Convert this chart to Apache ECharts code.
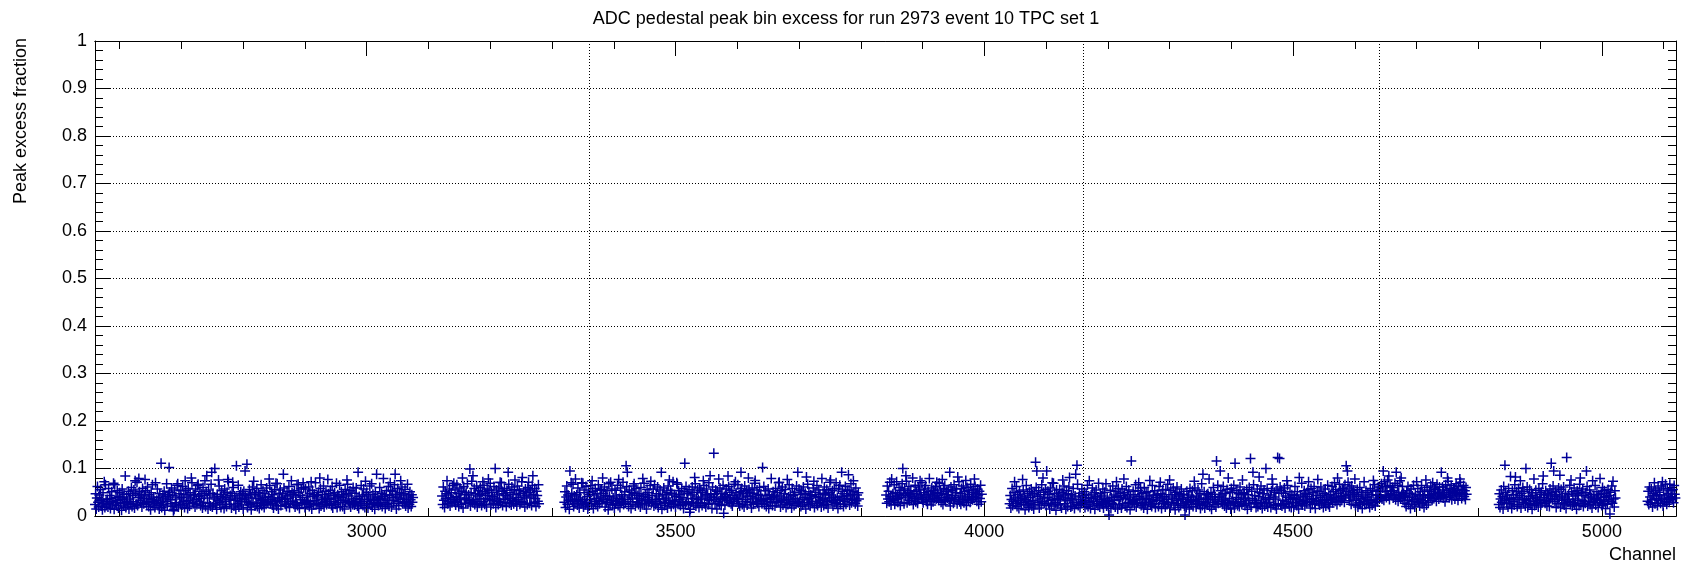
<!DOCTYPE html>
<html>
<head>
<meta charset="utf-8">
<title>ADC pedestal peak bin excess</title>
<script src="https://cdn.jsdelivr.net/npm/echarts@6/dist/echarts.min.js"></script>
<style>
  html, body { margin: 0; padding: 0; background: #ffffff; }
  #chart { width: 1692px; height: 568px; }
</style>
</head>
<body>
<div id="chart"></div>
<script>
// Peak excess fraction per channel, in thousandths, one array per contiguous channel block.
const segStarts = [2560, 3122, 3320, 3841, 4041, 4833, 5074];

const seg1 = [
  24,47,15,38,62,29,19,44,33,56,21,36,13,49,27,41,18,66,31,25,
  35,19,58,27,43,16,37,51,23,30,69,14,45,28,39,22,53,33,17,41,
  49,26,34,12,57,38,21,46,29,64,18,40,31,24,52,15,36,47,27,60,
  20,43,30,55,17,35,48,25,71,22,39,14,51,33,28,45,19,58,37,26,
  42,16,53,31,24,61,37,20,45,28,13,49,35,66,23,40,30,18,54,27,
  33,57,22,39,15,47,29,63,18,36,44,25,52,12,41,31,68,21,38,46,
  17,50,34,26,59,20,43,37,14,55,28,40,23,65,32,19,47,36,24,53,
  39,23,62,30,46,18,35,54,27,42,16,58,33,21,49,38,25,70,29,44,
  26,45,19,57,34,24,64,13,41,31,52,22,37,47,17,60,28,43,35,20,
  51,30,38,15,55,27,44,21,67,33,19,48,26,40,58,23,36,14,46,32,
  22,63,29,41,18,53,36,25,45,16,57,31,39,20,50,27,72,34,24,43,
  36,17,48,28,60,21,42,33,14,54,38,26,65,19,44,30,51,23,37,47,
  15,52,35,23,43,31,66,18,40,28,56,24,46,13,38,61,27,34,49,21,
  45,27,58,20,37,49,16,42,32,63,22,35,53,29,18,47,39,25,59,31,
  28,41,19,64,26,34,51,23,45,17,38,56,30,43,21,68,33,15,48,36,
  55,22,39,30,47,14,59,35,25,42,20,52,37,27,62,18,44,31,24,49,
  31,46,25,53,19,40,28,66,22,37,50,16,43,34,57,26,39,21,60,29,
  18,57,33,24,44,30,61,20,48,27,36,15,54,41,23,46,32,70,25,38,
  43,26,50,16,39,58,21,34,45,29,63,19,40,31,52,24,37,14,47,35,
  27,54,36,22,62,17,43,30,49,25,38,56,18,45,28,41,65,20,33,51,
  39,20,45,33,15,56,29,47,23,67,31,42,26,53,19,36,48,24,60,30,
  23,48,28,59,37,21,52,16,41,34,26,64,30,44,22,57,35,18,39,46,
  50,31,17,42,26,63,35,24,55,19,46,29,38,14,51,33,68,27,40,22,
  34,60,24,37,48,20,41,57,28,45,16,36,53,25,32,62,21,43,29,54,
  19,39,52,27,33,66,23,46,15,40,58,30,22,49,36,18,44,61,26,35,
  47,28,56,21,38,31,64,17,42,25,51,34,20,45,29,39
];

const seg2 = [
  42,24,61,33,18,52,37,47,70,26,44,30,57,21,39,49,28,64,35,45,
  31,55,23,41,66,29,48,20,38,59,34,25,52,43,17,62,36,46,27,50,
  38,68,26,44,33,56,21,49,73,29,40,35,58,24,47,31,63,19,42,53,
  27,45,60,36,22,51,41,30,65,25,48,37,19,57,43,28,54,34,69,23,
  50,33,41,26,62,38,46,18,55,31,44,24,59,36,71,28,39,52,22,47,
  35,58,29,43,20,54,40,32,67,27,49,37,23,61,33,45,26,56,41,30,
  46,21,63,34,39,53,25,48,30,72,36,28,51,42,19,57,38,44,24,60,
  32,49,27,55,40,22,64,35,45,29,58,37,20,52,43,31,66,26
];

const seg3 = [
  29,51,18,40,63,25,44,33,14,57,36,22,48,31,67,20,42,27,53,35,
  45,23,59,32,17,49,38,26,70,30,43,19,55,34,24,62,28,41,15,50,
  21,46,35,64,27,39,52,16,44,31,58,24,37,47,20,66,33,26,54,40,
  56,30,22,48,36,61,19,43,28,53,34,13,68,41,25,46,32,57,23,38,
  33,17,54,26,42,31,65,22,49,37,18,59,29,45,35,71,24,40,51,27,
  40,62,28,35,20,55,44,30,16,50,38,25,63,33,47,21,58,36,29,43,
  24,48,37,19,60,32,26,52,41,69,23,45,34,15,56,39,28,49,31,64,
  52,27,43,31,57,21,66,35,24,47,30,61,18,42,36,55,26,39,14,46,
  36,59,22,45,29,38,50,17,63,33,41,27,54,20,48,32,72,25,44,30,
  19,41,31,67,25,53,34,46,22,39,58,28,36,16,51,43,24,62,30,48,
  47,26,56,35,14,44,29,61,37,23,50,32,68,21,40,27,55,34,18,59,
  28,53,38,22,49,31,64,26,42,19,57,36,45,24,70,33,29,47,39,16,
  61,34,20,46,27,55,40,15,52,30,43,25,59,37,22,48,35,65,26,41,
  23,45,57,32,39,18,62,29,50,36,26,54,21,43,31,67,38,17,49,34,
  37,66,26,44,21,51,33,58,24,40,47,19,63,30,35,53,23,42,28,56,
  50,29,41,17,59,36,25,48,69,22,38,31,55,27,46,20,60,34,43,32,
  26,47,33,62,24,43,53,20,37,30,57,16,45,35,28,64,39,22,51,41,
  44,21,58,28,36,49,31,70,25,42,19,54,33,61,23,38,47,29,56,18,
  35,52,24,40,66,27,45,34,17,58,30,43,22,50,37,26,63,31,44,28,
  57,30,46,20,53,35,23,61,39,28,48,15,42,34,67,25,51,37,21,45,
  31,43,27,59,34,18,50,41,26,64,22,39,55,29,46,33,19,60,36,48,
  22,61,36,45,25,56,30,17,49,38,71,27,44,32,53,21,40,58,28,35,
  48,26,39,16,57,33,65,24,41,29,52,36,20,47,31,62,25,43,54,37,
  30,55,23,42,68,28,46,35,19,51,38,26,59,32,44,21,49,36
];

const seg4 = [
  44,27,63,36,52,30,71,41,23,56,38,47,33,66,25,49,35,58,42,29,
  37,60,45,22,54,39,68,31,48,26,57,43,34,73,28,50,40,62,32,46,
  53,33,41,59,24,47,37,65,30,51,42,27,61,36,55,21,45,39,70,34,
  28,49,57,38,64,31,44,25,52,40,67,35,46,23,59,42,30,54,37,48,
  62,36,26,50,43,33,69,39,55,29,47,41,24,58,35,64,31,45,51,38,
  40,56,32,47,21,61,37,53,43,27,66,34,49,39,57,26,44,35,72,30,
  47,25,58,42,35,63,28,51,38,45,22,60,40,33,54,46,29,67,36,50,
  34,55,41,27,62,39,48,31,57,44,25,52,37,65,30,46
];

const seg5 = [
  26,43,17,35,58,22,31,49,14,38,27,62,20,45,33,16,52,29,40,24,
  37,19,55,28,42,13,34,64,23,47,30,18,51,26,39,57,21,44,32,15,
  48,25,33,60,20,41,29,53,17,36,45,23,66,31,19,50,27,38,56,22,
  18,39,52,27,46,15,59,33,24,43,35,69,21,48,28,12,55,37,25,42,
  34,56,23,40,17,50,30,44,63,26,38,14,53,32,20,47,61,28,36,19,
  45,21,36,58,29,16,42,54,25,33,67,22,40,48,18,35,27,57,31,43,
  29,51,18,33,46,24,65,20,39,53,28,16,44,37,59,23,31,49,14,41,
  55,27,40,22,61,35,19,47,30,42,25,57,17,36,50,28,68,21,38,33,
  20,46,31,54,16,39,27,63,24,44,33,19,52,29,41,15,58,35,23,48,
  39,17,57,26,43,31,49,21,37,62,18,45,28,55,34,13,40,51,26,30,
  52,32,24,45,66,19,36,28,53,15,41,34,59,22,47,27,38,17,60,25,
  28,49,37,14,51,29,42,58,23,35,20,64,31,44,26,53,18,39,33,46,
  43,20,62,33,25,47,16,38,55,27,41,30,19,56,35,24,67,29,45,21,
  17,54,28,40,36,59,23,45,13,50,32,61,26,37,18,48,42,22,57,34,
  36,26,46,21,63,30,18,52,39,28,44,15,58,33,25,40,53,20,35,49,
  59,31,19,42,27,55,35,24,47,16,38,68,22,43,30,51,17,36,28,45,
  23,47,34,57,20,38,49,14,41,29,60,25,46,34,19,54,31,65,27,40,
  40,18,53,30,44,25,62,36,21,48,33,17,56,28,42,23,37,50,15,58,
  31,50,26,65,17,43,29,39,54,22,35,47,20,61,30,45,24,16,49,36,
  48,22,38,27,56,14,45,32,60,26,41,19,52,37,24,66,28,43,33,18,
  26,57,20,41,35,50,23,63,29,16,47,38,55,21,34,44,27,58,19,39,
  35,29,44,18,53,31,67,24,40,50,22,36,15,57,42,26,48,32,61,23,
  54,21,33,48,25,59,17,42,30,46,64,27,39,20,51,35,18,45,28,37,
  19,43,62,29,38,22,51,35,15,55,31,44,26,69,23,40,33,53,21,47,
  41,28,36,56,20,46,30,17,58,34,24,49,37,62,27,16,43,32,52,25,
  30,52,23,39,61,26,43,35,18,48,29,57,21,40,33,65,24,45,19,36,
  45,34,62,28,51,39,70,31,56,42,24,60,36,48,67,30,53,41,33,58,
  38,57,29,66,43,35,52,27,71,46,32,59,40,25,63,49,36,54,44,61,
  22,46,33,56,19,41,28,60,25,37,50,16,44,31,63,24,39,53,27,35,
  49,26,40,18,58,32,45,23,54,37,29,66,21,43,35,52,30,61,44,38,
  55,41,68,36,59,48,33,72,44,62,39,51,76,42,57,35,64,47,53,45,
  60,38,53,46,69,34,57,43,65,31,50,40,74,37,55,45,62,33,48,41,
  27,44,20,53,33,62,24,39,48,16,57,30,42,25,65,35,19,46,31,50,
  36,58,29,42,21,51,34,64,26,45,38,18,55,32,47,23,60,40,28,43,
  52,39,63,45,33,70,48,37,59,42,56,31,67,44,50,36,61,47,40,72,
  43,61,38,55,46,30,66,41,53,35,73,49,39,58,44,64,34,51,47,57,
  58,36,49,68,42,54,33,62,45,39,71,50,37,56,47,64,41,53,35,60,
  46
];

const seg6 = [
  24,47,18,36,55,29,41,15,62,32,21,50,38,27,44,19,58,34,26,42,
  37,16,53,30,45,23,66,28,39,51,20,34,58,25,43,31,17,48,36,60,
  29,52,35,21,46,33,61,18,41,27,56,37,24,49,14,43,31,64,22,38,
  54,26,40,32,19,58,35,46,23,50,29,68,17,39,44,27,53,33,21,47,
  31,44,20,57,37,25,49,34,63,22,41,30,52,18,45,36,26,59,40,28,
  19,56,33,42,27,61,23,38,48,16,54,35,29,46,31,65,24,40,51,21,
  42,28,59,25,36,47,14,53,32,44,22,67,37,26,50,33,57,20,43,30,
  27,49,36,62,21,40,31,55,24,46,38,17,58,29,42,34,64,23,37,51,
  35,18,45,28,57,33,48,22,60,26,39,53,30,16,47,41,25,56,34,43,
  22,50,31,63,27,44,36,19,53,38
];

const seg7 = [
  31,52,24,61,40,28,57,35,19,48,43,66,26,54,37,45,22,59,33,50,
  42,27,63,36,49,21,55,38,30,67,44,25,58,34,47,29,62,39,53,41,
  35,56,28,64,46,38
];

// Channels standing out from the band: [channel, thousandths].
const spikes = [
  [2575,72],[2592,66],[2609,84],[2625,74],[2631,79],[2641,77],[2658,70],[2667,111],
  [2680,102],[2687,11],[2694,68],[2706,74],[2716,80],[2727,67],[2738,74],[2741,85],
  [2749,92],[2754,100],[2760,76],[2775,77],[2783,71],[2789,106],[2803,95],[2806,109],
  [2817,73],[2829,66],[2842,78],[2853,69],[2865,88],[2878,74],[2889,67],[2897,70],
  [2910,72],[2924,80],[2937,77],[2951,69],[2968,76],[2986,92],[2998,73],[3008,68],
  [3016,88],[3027,79],[3038,70],[3046,88],[3055,74],[3066,67],
  [3130,74],[3141,69],[3155,80],[3167,99],[3172,85],[3188,72],[3197,78],[3208,100],
  [3218,70],[3229,92],[3240,76],[3252,81],[3262,71],[3269,85],
  [3329,95],[3331,70],[3338,78],[3350,69],[3365,74],[3382,80],[3395,71],[3408,77],
  [3420,106],[3422,92],[3433,68],[3447,79],[3460,73],[3477,92],[3490,76],[3502,70],
  [3515,111],[3523,8],[3531,81],[3545,74],[3556,85],[3562,132],[3570,78],[3578,6],
  [3585,84],[3597,72],[3606,92],[3618,80],[3629,75],[3641,102],[3655,79],[3668,71],
  [3681,77],[3698,92],[3712,82],[3724,73],[3737,79],[3751,76],[3760,70],[3769,92],
  [3780,87],[3788,74],
  [3850,78],[3858,72],[3868,100],[3873,85],[3884,80],[3896,74],[3911,79],[3923,71],
  [3932,77],[3944,92],[3957,82],[3970,75],[3984,78],
  [4049,72],[4062,77],[4083,113],[4085,95],[4095,80],[4101,95],[4110,70],[4127,76],
  [4138,81],[4148,88],[4150,107],[4170,74],[4185,69],[4202,2],[4214,72],[4226,78],
  [4238,116],[4250,70],[4268,75],[4285,71],[4300,76],[4325,2],[4340,73],[4354,88],
  [4364,78],[4376,116],[4382,95],[4395,80],[4406,111],[4418,76],[4431,121],[4435,92],
  [4445,82],[4456,100],[4466,78],[4475,123],[4478,121],[4490,74],[4510,81],[4525,72],
  [4540,77],[4572,80],[4586,106],[4588,95],[4600,78],[4615,72],[4630,75],[4646,95],
  [4655,84],[4667,92],[4675,80],[4700,72],[4715,76],[4740,92],[4750,80],[4770,78],
  [4843,107],[4852,83],[4860,82],[4868,74],[4877,100],[4890,78],[4905,84],[4918,111],
  [4922,95],[4932,86],[4943,123],[4950,76],[4965,80],[4975,95],[4985,74],[4997,79],
  [5013,4],[5018,73],
  [5085,70],[5098,72],[5110,67]
];

// Axis ticks and the wire-plane boundaries drawn as dotted guides.
const xMajorTicks = [3000, 3500, 4000, 4500, 5000];
const xMinorTicks = [2600, 2700, 2800, 2900, 3100, 3200, 3300, 3400, 3600, 3700, 3800, 3900,
                     4100, 4200, 4300, 4400, 4600, 4700, 4800, 4900, 5100];
const boundaryChannels = [3360, 4160, 4640];

const chartTitle = 'ADC pedestal peak bin excess for run 2973 event 10 TPC set 1';
const xTitle = 'Channel';
const yTitle = 'Peak excess fraction';

const segValues = [seg1, seg2, seg3, seg4, seg5, seg6, seg7];
const spikeMap = new Map(spikes.map(s => [s[0], s[1]]));
const points = [];
segValues.forEach((vals, k) => {
  vals.forEach((v, i) => {
    const ch = segStarts[k] + i;
    const val = spikeMap.has(ch) ? spikeMap.get(ch) : v;
    points.push([ch, val / 1000]);
  });
});

const FONT = '"Liberation Sans", Arial, Helvetica, sans-serif';
const INK = '#000000';
const MARK = '#000099';

function xAxisDef(position, ticks, len, withLabels) {
  return {
    type: 'value', position: position, min: 2560, max: 5120,
    axisLine: { show: true, onZero: false, lineStyle: { color: INK, width: 1 } },
    axisTick: { show: true, inside: true, length: len, customValues: ticks, lineStyle: { color: INK, width: 1 } },
    axisLabel: withLabels
      ? { show: true, customValues: ticks, margin: 7, fontSize: 18, fontFamily: FONT, color: INK,
          formatter: v => String(v) }
      : { show: false },
    splitLine: { show: false }
  };
}

function yAxisDef(position, withLabels) {
  return {
    type: 'value', position: position, min: 0, max: 1, interval: 0.1,
    axisLine: { show: true, onZero: false, lineStyle: { color: INK, width: 1 } },
    axisTick: { show: true, inside: true, length: 15, lineStyle: { color: INK, width: 1 } },
    minorTick: { show: true, splitNumber: 5, length: 8, lineStyle: { color: INK, width: 1 } },
    axisLabel: withLabels
      ? { show: true, margin: 8, fontSize: 18, fontFamily: FONT, color: INK }
      : { show: false },
    splitLine: withLabels
      ? { show: true, lineStyle: { color: INK, width: 1, type: [1, 2] } }
      : { show: false }
  };
}

const chart = echarts.init(document.getElementById('chart'), null, { renderer: 'canvas' });
chart.setOption({
  animation: false,
  backgroundColor: '#ffffff',
  title: {
    text: chartTitle, left: 'center', top: 4,
    textStyle: { fontFamily: FONT, fontSize: 18, fontWeight: 'normal', color: INK, lineHeight: 20 }
  },
  grid: { left: 95, right: 16, top: 41, bottom: 52, containLabel: false },
  xAxis: [
    xAxisDef('bottom', xMajorTicks, 15, true),
    xAxisDef('bottom', xMinorTicks, 8, false),
    xAxisDef('top', xMajorTicks, 15, false),
    xAxisDef('top', xMinorTicks, 8, false)
  ],
  yAxis: [
    yAxisDef('left', true),
    yAxisDef('right', false)
  ],
  graphic: [
    {
      type: 'text', x: 21, y: 38, rotation: Math.PI / 2, silent: true,
      style: { text: yTitle, fontFamily: FONT, fontSize: 18, fill: INK, align: 'right', verticalAlign: 'middle' }
    },
    {
      type: 'text', x: 1676, y: 555, silent: true,
      style: { text: xTitle, fontFamily: FONT, fontSize: 18, fill: INK, align: 'right', verticalAlign: 'middle' }
    }
  ],
  series: [{
    type: 'scatter',
    xAxisIndex: 0, yAxisIndex: 0,
    data: points,
    symbol: 'path://M4.25,0H5.75V4.25H10V5.75H5.75V10H4.25V5.75H0V4.25H4.25Z',
    symbolSize: 10,
    itemStyle: { color: MARK, opacity: 1 },
    silent: true,
    markLine: {
      silent: true, symbol: ['none', 'none'], animation: false,
      label: { show: false },
      lineStyle: { color: INK, width: 1, type: [1, 2] },
      data: boundaryChannels.map(c => ({ xAxis: c }))
    }
  }]
});
</script>
</body>
</html>
